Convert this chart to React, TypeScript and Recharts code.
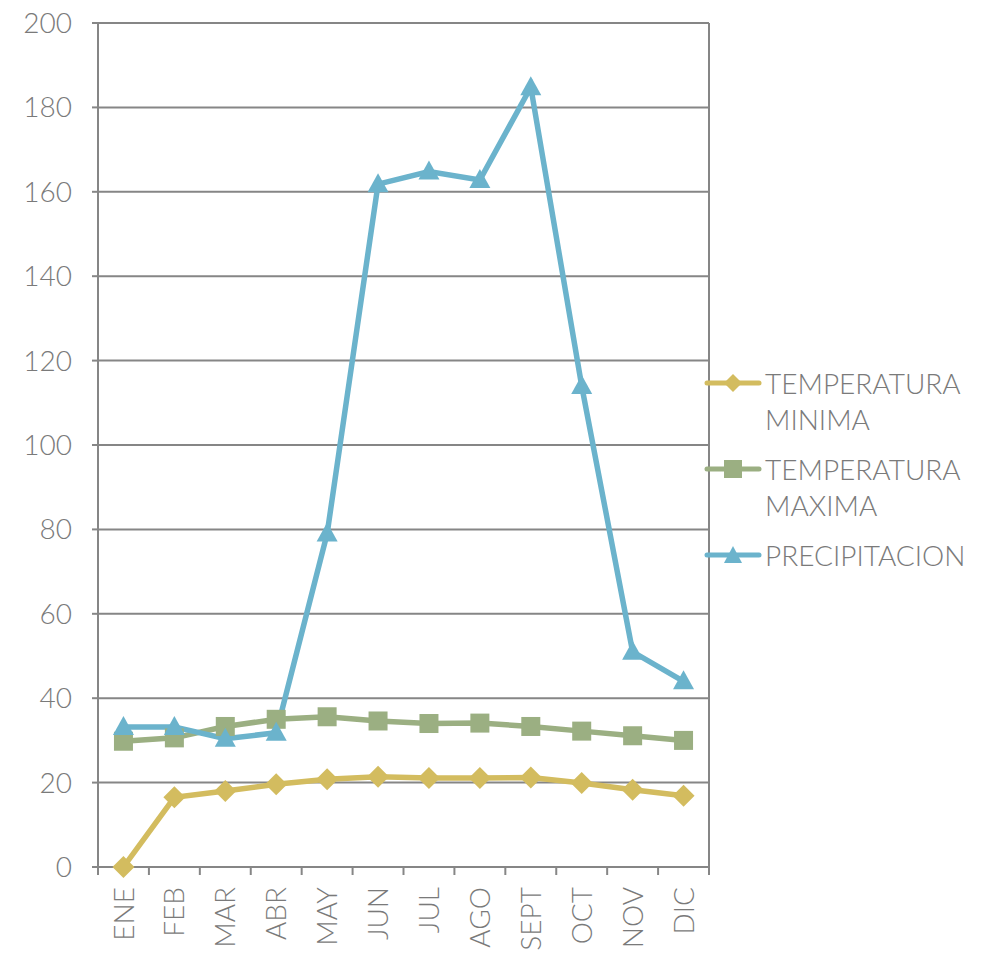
import { ComposedChart, Line, XAxis, YAxis, CartesianGrid } from 'recharts'

const meses = ['ENE', 'FEB', 'MAR', 'ABR', 'MAY', 'JUN', 'JUL', 'AGO', 'SEPT', 'OCT', 'NOV', 'DIC']
const tempMinima = [0, 16.5, 18, 19.6, 20.8, 21.4, 21.1, 21.1, 21.2, 19.9, 18.3, 16.9]
const tempMaxima = [29.8, 30.6, 33.3, 35, 35.6, 34.6, 34, 34.1, 33.3, 32.2, 31.1, 30]
const precipitacion = [33.2, 33.2, 30.4, 31.8, 79, 161.8, 164.8, 162.8, 184.8, 114, 51, 44]
const yTicks = [0, 20, 40, 60, 80, 100, 120, 140, 160, 180, 200]

const AMARILLO = '#D3BC5F'
const VERDE = '#9BAF82'
const AZUL = '#6BB3CC'
const GRIS = '#868686'
const TEXTO = '#7A7A7A'
const FONT = 'Lato, sans-serif'
const PESO = 300
const TAM = 28

const W = 988
const H = 956
const PLOT_LEFT = 98
const PLOT_RIGHT = 709
const PLOT_TOP = 23
const PLOT_BOTTOM = 867
const STEP = (PLOT_RIGHT - PLOT_LEFT) / meses.length

const data = meses.map((mes, i) => ({
  mes,
  minima: tempMinima[i],
  maxima: tempMaxima[i],
  precip: precipitacion[i],
}))

const Diamond = ({ cx, cy }: any) => (
  <path d={`M${cx},${cy - 11} L${cx + 11},${cy} L${cx},${cy + 11} L${cx - 11},${cy} Z`} fill={AMARILLO} />
)
const Square = ({ cx, cy }: any) => (
  <rect x={cx - 9.5} y={cy - 9.5} width={19} height={19} fill={VERDE} />
)
const Triangle = ({ cx, cy }: any) => (
  <path d={`M${cx},${cy - 11} L${cx + 10.5},${cy + 8} L${cx - 10.5},${cy + 8} Z`} fill={AZUL} />
)

const MesTick = ({ x, payload, index }: any) => {
  const left = x - STEP / 2
  return (
    <g>
      <line x1={left} y1={PLOT_BOTTOM} x2={left} y2={PLOT_BOTTOM + 8} stroke={GRIS} strokeWidth={2} />
      {index === meses.length - 1 && (
        <line x1={x + STEP / 2} y1={PLOT_BOTTOM} x2={x + STEP / 2} y2={PLOT_BOTTOM + 8} stroke={GRIS} strokeWidth={2} />
      )}
      <text
        x={x}
        y={PLOT_BOTTOM + 20}
        dy="0.36em"
        textAnchor="end"
        transform={`rotate(-90, ${x}, ${PLOT_BOTTOM + 20})`}
        fill={TEXTO}
        fontSize={TAM}
        fontWeight={PESO}
        fontFamily={FONT}
      >
        {payload.value}
      </text>
    </g>
  )
}

const legendItems = [
  { label: ['TEMPERATURA', 'MINIMA'], color: AMARILLO, marker: 'diamond' },
  { label: ['TEMPERATURA', 'MAXIMA'], color: VERDE, marker: 'square' },
  { label: ['PRECIPITACION'], color: AZUL, marker: 'triangle' },
]

function LegendIcon({ color, marker }: { color: string; marker: string }) {
  return (
    <svg width={58} height={24} style={{ display: 'block' }}>
      <line x1={3} y1={12} x2={55} y2={12} stroke={color} strokeWidth={5} strokeLinecap="round" />
      {marker === 'diamond' && <path d="M29,3 L38,12 L29,21 L20,12 Z" fill={color} />}
      {marker === 'square' && <rect x={20} y={3} width={18} height={18} fill={color} />}
      {marker === 'triangle' && <path d="M29,3 L38,20 L20,20 Z" fill={color} />}
    </svg>
  )
}

export default function App() {
  return (
    <div style={{ position: 'relative', width: W, height: H, background: '#fff' }}>
      <style>{'body{margin:0}'}</style>
      <ComposedChart
        width={W}
        height={H}
        data={data}
        margin={{ top: PLOT_TOP, right: W - PLOT_RIGHT - 1, left: 0, bottom: 0 }}
      >
        <CartesianGrid vertical={false} stroke={GRIS} strokeWidth={2} yAxisId="left" />
        <XAxis
          dataKey="mes"
          scale="band"
          height={H - PLOT_BOTTOM}
          interval={0}
          axisLine={{ stroke: GRIS, strokeWidth: 2 }}
          tickLine={false}
          tick={<MesTick />}
        />
        <YAxis
          yAxisId="left"
          domain={[0, 200]}
          ticks={yTicks}
          width={PLOT_LEFT}
          axisLine={{ stroke: GRIS, strokeWidth: 2 }}
          tickLine={{ stroke: GRIS, strokeWidth: 2 }}
          tickSize={6}
          tickMargin={20}
          tick={{ fill: TEXTO, fontSize: TAM, fontWeight: PESO, fontFamily: FONT }}
        />
        <YAxis
          yAxisId="right"
          orientation="right"
          domain={[0, 200]}
          ticks={[]}
          width={1}
          axisLine={{ stroke: GRIS, strokeWidth: 2 }}
          tickLine={false}
          tick={false}
        />
        <Line yAxisId="left" dataKey="minima" name="TEMPERATURA MINIMA" stroke={AMARILLO} strokeWidth={5.5} dot={<Diamond />} activeDot={false} isAnimationActive={false} />
        <Line yAxisId="left" dataKey="maxima" name="TEMPERATURA MAXIMA" stroke={VERDE} strokeWidth={5.5} dot={<Square />} activeDot={false} isAnimationActive={false} />
        <Line yAxisId="left" dataKey="precip" name="PRECIPITACION" stroke={AZUL} strokeWidth={5.5} dot={<Triangle />} activeDot={false} isAnimationActive={false} />
      </ComposedChart>
      <div
        style={{
          position: 'absolute',
          left: 704,
          top: 365,
          display: 'flex',
          flexDirection: 'column',
          gap: 14,
          fontFamily: FONT,
          fontSize: TAM,
          fontWeight: PESO,
          color: TEXTO,
          lineHeight: '36px',
        }}
      >
        {legendItems.map(item => (
          <div key={item.label.join(' ')} style={{ display: 'flex', alignItems: 'flex-start' }}>
            <div style={{ paddingTop: 6 }}>
              <LegendIcon color={item.color} marker={item.marker} />
            </div>
            <div style={{ marginLeft: 3 }}>
              {item.label.map(l => (
                <div key={l}>{l}</div>
              ))}
            </div>
          </div>
        ))}
      </div>
    </div>
  )
}
